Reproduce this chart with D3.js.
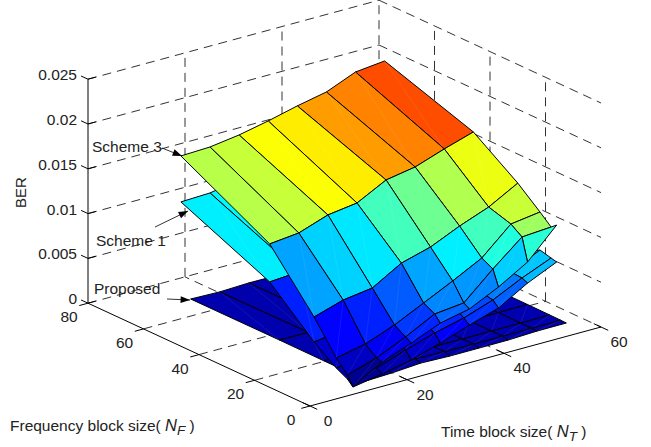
<!DOCTYPE html>
<html>
<head>
<meta charset="utf-8">
<script src="https://cdn.jsdelivr.net/npm/d3@7"></script>
<style>
html, body { margin: 0; padding: 0; background: #fff; }
svg { display: block; }
text { font-family: "Liberation Sans", Arial, sans-serif; fill: #222; }
</style>
</head>
<body>
<svg width="651" height="447"></svg>
<script>
// values
const timeTicks = [0, 20, 40, 60];
const freqTicks = [0, 20, 40, 60, 80];
const berTicks = [0, 0.005, 0.01, 0.015, 0.02, 0.025];
const berTickLabels = ['0', '0.005', '0.01', '0.015', '0.02', '0.025'];

const freqBlocks = [64, 32, 16, 8, 4, 2];
const timeBlocks = [10, 16, 22, 28, 34, 40, 46, 52];
const timeBlocksProposed = [12, 18, 24, 30, 36, 42, 48, 54];

const scheme3 = [
    [0.01726, 0.01738, 0.01784, 0.01852, 0.01932, 0.01999, 0.02134, 0.02169],
    [0.01203, 0.01237, 0.0135, 0.01395, 0.01564, 0.01621, 0.01734, 0.01835],
    [0.00617, 0.00718, 0.00764, 0.00954, 0.01045, 0.01191, 0.01315, 0.01494],
    [0.00274, 0.00342, 0.00466, 0.00623, 0.00781, 0.00949, 0.0124, 0.01286],
    [0.00142, 0.00244, 0.0039, 0.00558, 0.00593, 0.00884, 0.01153, 0.01176],
    [0.00036, 0.00227, 0.0035, 0.00485, 0.00554, 0.00711, 0.00902, 0.01227],
];
const scheme1 = [
    [0.01213, 0.01225, 0.01281, 0.01327, 0.01373, 0.01419, 0.01487, 0.01532],
    [0.00779, 0.00802, 0.00847, 0.00893, 0.00951, 0.01007, 0.01053, 0.01109],
    [0.00338, 0.00383, 0.00429, 0.00485, 0.00543, 0.00589, 0.00657, 0.00724],
    [0.00162, 0.00197, 0.00321, 0.00411, 0.00513, 0.00559, 0.00705, 0.00862],
    [0.00097, 0.00132, 0.00244, 0.00346, 0.00425, 0.00538, 0.00695, 0.0083],
    [0.00036, 0.00093, 0.00161, 0.00262, 0.00375, 0.00477, 0.00667, 0.00814],
];
const proposed = [
    [0.001, 0.00091, 0.00103, 0.00101, 0.00101, 0.00106, 0.0011, 0.00115],
    [0.00101, 0.00097, 0.00101, 0.00101, 0.00101, 0.00106, 0.00108, 0.00112],
    [0.00099, 0.00097, 0.00104, 0.00103, 0.00103, 0.00104, 0.00108, 0.0011],
    [0.00098, 0.00099, 0.00109, 0.00106, 0.00103, 0.00104, 0.00104, 0.00108],
    [0.00094, 0.00097, 0.00114, 0.00109, 0.00103, 0.00104, 0.00104, 0.00106],
    [0.00063, 0.00075, 0.00098, 0.00088, 0.00089, 0.0009, 0.00103, 0.00104],
];

const svg = d3.select('svg');

// oblique view of the box: the three axes share one corner
const originX = 310;
const originY = 406;
const timeX = d3.scaleLinear().domain([0, 60]).range([0, 291]);
const timeY = d3.scaleLinear().domain([0, 60]).range([0, -79]);
const freqX = d3.scaleLinear().domain([0, 80]).range([0, -222]);
const freqY = d3.scaleLinear().domain([0, 80]).range([0, -102.8]);
const berY = d3.scaleLinear().domain([0, 0.025]).range([0, -224]);

const project = (t, f, b) => [
    originX + timeX(t) + freqX(f),
    originY + timeY(t) + freqY(f) + berY(b),
];

// jet colormap
const berMax = 0.0217;
const jet = d3
    .scaleLinear()
    .domain([0, 0.125, 0.375, 0.625, 0.875, 1].map((v) => v * berMax))
    .range(['#000080', '#0000ff', '#00ffff', '#ffff00', '#ff0000', '#800000'])
    .clamp(true);

const seg = (g, a, b) =>
    g
        .append('line')
        .attr('x1', a[0])
        .attr('y1', a[1])
        .attr('x2', b[0])
        .attr('y2', b[1]);

// dashed grid on the floor and the two back walls
const grid = svg
    .append('g')
    .attr('stroke', '#333')
    .attr('stroke-width', 1)
    .attr('stroke-dasharray', '9,6');
berTicks.forEach((b) => {
    seg(grid, project(0, 80, b), project(60, 80, b));
    seg(grid, project(60, 80, b), project(60, 0, b));
});
timeTicks.slice(1, 3).forEach((t) => {
    seg(grid, project(t, 0, 0), project(t, 80, 0));
    seg(grid, project(t, 80, 0), project(t, 80, 0.025));
});
freqTicks.slice(1, 4).forEach((f) => {
    seg(grid, project(0, f, 0), project(60, f, 0));
    seg(grid, project(60, f, 0), project(60, f, 0.025));
});
seg(grid, project(60, 80, 0), project(60, 80, 0.025));

// axes
const axes = svg.append('g').attr('stroke', '#000').attr('stroke-width', 1);
seg(axes, project(0, 0, 0), project(60, 0, 0));
seg(axes, project(0, 0, 0), project(0, 80, 0));
seg(axes, project(0, 80, 0), project(0, 80, 0.025));
timeTicks.forEach((t) => seg(axes, project(t, 2.6, 0), project(t, -2.6, 0)));
freqTicks.forEach((f) => seg(axes, project(0, f, 0), project(-1.8, f, 0)));
berTicks.forEach((b) => {
    seg(axes, project(0, 80, b), project(0, 82.5, b));
    seg(axes, project(0, 80, b), project(1.6, 80, b));
});

const drawSurface = (values, times) => {
    const g = svg.append('g');
    // far cells first
    freqBlocks.slice(0, -1).forEach((f, r) => {
        for (let c = times.length - 2; c >= 0; c--) {
            const corners = [
                project(times[c], f, values[r][c]),
                project(times[c + 1], f, values[r][c + 1]),
                project(times[c + 1], freqBlocks[r + 1], values[r + 1][c + 1]),
                project(times[c], freqBlocks[r + 1], values[r + 1][c]),
            ];
            g.append('path')
                .attr('d', d3.line()(corners) + 'Z')
                .attr('fill', jet(values[r + 1][c]))
                .attr('stroke', '#000')
                .attr('stroke-width', 1)
                .attr('stroke-linejoin', 'round');
            // the thin seam between the two triangles of a cell
            seg(g, corners[1], corners[3])
                .attr('stroke', '#fff')
                .attr('stroke-opacity', 0.15)
                .attr('stroke-width', 0.5);
        }
    });
};
drawSurface(proposed, timeBlocksProposed);
drawSurface(scheme1, timeBlocks);
drawSurface(scheme3, timeBlocks);

// tick labels
const tickSize = 15.5;
const label = (x, y, s, anchor) =>
    svg
        .append('text')
        .attr('x', x)
        .attr('y', y)
        .attr('font-size', tickSize)
        .attr('text-anchor', anchor || 'middle')
        .text(s);

timeTicks.forEach((t) => {
    const p = project(t, 0, 0);
    label(p[0] + 18, p[1] + 20, t);
});
freqTicks.forEach((f) => {
    const p = project(0, f, 0);
    label(p[0] - 19, p[1] + 19, f);
});
berTicks.forEach((b, i) => {
    const p = project(0, 80, b);
    label(p[0] - 11, p[1] + 1, berTickLabels[i], 'end');
});

// annotations
const arrow = (from, to) => {
    seg(svg, from, to).attr('stroke', '#000').attr('stroke-width', 0.8);
    const a = Math.atan2(to[1] - from[1], to[0] - from[0]);
    const head = [
        to,
        [to[0] - 10 * Math.cos(a - 0.35), to[1] - 10 * Math.sin(a - 0.35)],
        [to[0] - 10 * Math.cos(a + 0.35), to[1] - 10 * Math.sin(a + 0.35)],
    ];
    svg.append('path').attr('d', d3.line()(head) + 'Z').attr('fill', '#000');
};
const annotations = ['Scheme 3', 'Scheme 1', 'Proposed'];
label(92, 152, annotations[0], 'start');
label(96, 246, annotations[1], 'start');
label(94, 294, annotations[2], 'start');
arrow([162, 148], [182, 156]);
arrow([155, 227], [188, 211]);
arrow([167, 299], [190, 300]);

// axis titles
svg.append('text')
    .attr('transform', 'translate(26,192.5) rotate(-90)')
    .attr('text-anchor', 'middle')
    .attr('font-size', 15)
    .text('BER');

const title = (x, y, s, sub) => {
    const t = svg
        .append('text')
        .attr('x', x)
        .attr('y', y)
        .attr('font-size', 15.5);
    t.append('tspan').text(s + ' ');
    t.append('tspan').attr('font-style', 'italic').attr('font-size', 16.5).text('N');
    t.append('tspan')
        .attr('font-style', 'italic')
        .attr('font-size', 13.5)
        .attr('dy', 4)
        .text(sub);
    t.append('tspan').attr('dy', -4).text(' )');
};
title(10, 431, 'Frequency block size(', 'F');
title(441, 437, 'Time block size(', 'T');
</script>
</body>
</html>
